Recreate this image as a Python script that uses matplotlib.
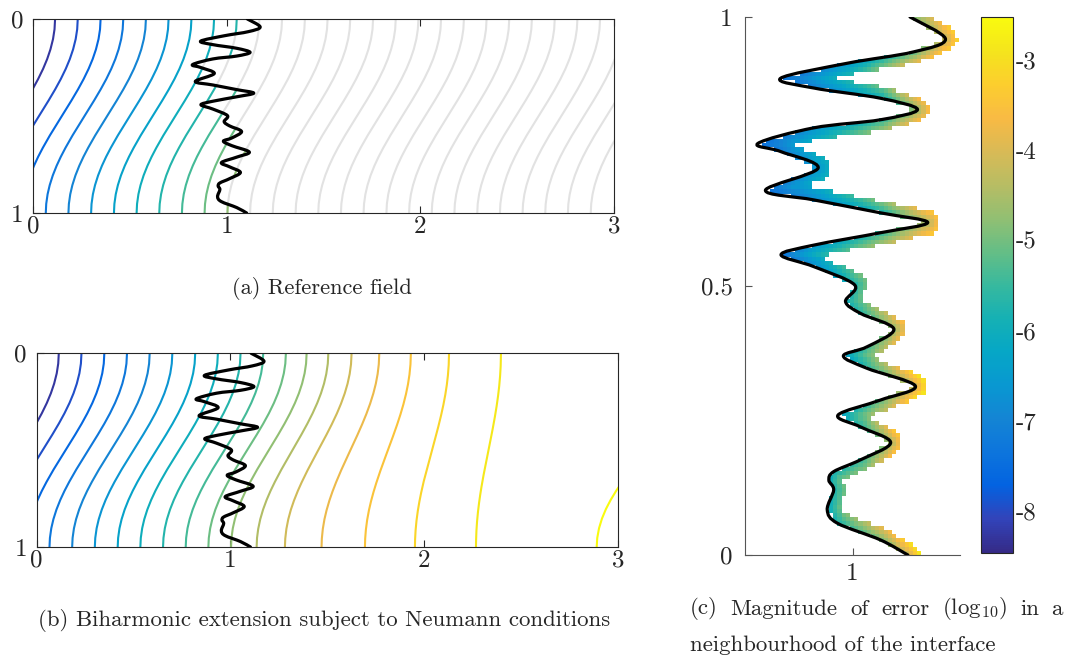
import numpy as np
import matplotlib
matplotlib.use("Agg")
import matplotlib.pyplot as plt
from matplotlib.colors import LinearSegmentedColormap, Normalize
from matplotlib.path import Path

plt.rcParams['font.family'] = 'cmr10'
plt.rcParams['mathtext.fontset'] = 'cm'
plt.rcParams['axes.unicode_minus'] = False
plt.rcParams['axes.formatter.use_mathtext'] = True

# ---------------- data ----------------
# interface curve: depth t (0 = top, 1 = bottom in panels a/b) and x position
iface_t = [0.000, 0.041, 0.065, 0.086, 0.114, 0.132, 0.151, 0.172, 0.191, 0.206,
           0.235, 0.250, 0.281, 0.322, 0.340, 0.364, 0.382, 0.401, 0.424, 0.442,
           0.464, 0.498, 0.529, 0.551, 0.580, 0.613, 0.630, 0.653, 0.686, 0.712,
           0.740, 0.762, 0.791, 0.823, 0.845, 0.861, 0.879, 0.916, 0.941, 0.972, 1.000]
iface_x = [1.107, 1.173, 1.113, 0.990, 0.866, 0.928, 1.052, 1.121, 1.052, 0.928,
           0.824, 0.866, 0.936, 0.838, 0.928, 1.052, 1.140, 1.052, 0.928, 0.867,
           0.928, 1.004, 0.987, 1.015, 1.077, 1.027, 0.983, 1.027, 1.117, 1.052,
           0.973, 1.015, 1.071, 1.015, 0.965, 0.956, 0.965, 0.953, 0.972, 1.052, 1.103]

# log10 error next to the interface and at the outer edge of the band (per interface node)
err_inner = [-5.0, -4.3, -5.2, -6.6, -7.4, -7.1, -6.0, -4.7, -5.6, -6.7,
             -7.5, -7.2, -6.6, -7.4, -6.9, -5.8, -4.5, -5.5, -6.6, -7.4,
             -6.8, -5.8, -6.0, -5.6, -4.8, -5.4, -6.5, -5.6, -4.2, -5.1,
             -6.4, -5.6, -4.6, -5.5, -5.9, -6.1, -5.8, -6.2, -5.7, -5.0, -4.3]
err_outer = [-4.5, -3.2, -3.8, -5.8, -6.8, -6.5, -5.0, -3.5, -4.6, -6.1,
             -6.9, -6.7, -6.0, -6.8, -6.3, -4.8, -3.4, -4.5, -5.9, -6.7,
             -6.2, -5.0, -5.2, -5.0, -3.6, -4.8, -5.6, -5.0, -2.8, -4.3,
             -5.4, -5.0, -3.3, -4.8, -5.0, -5.0, -5.0, -5.1, -5.0, -3.8, -2.8]

# normalised S-shape of every contour line (+1 at top, -1 at bottom) vs depth
prof_t = [0.00, 0.05, 0.10, 0.15, 0.20, 0.25, 0.30, 0.35, 0.40, 0.45, 0.50,
          0.55, 0.60, 0.65, 0.70, 0.75, 0.80, 0.85, 0.90, 0.95, 1.00]
prof_s = [1.000, 0.988, 0.951, 0.891, 0.809, 0.707, 0.588, 0.454, 0.309, 0.156, 0.000,
          -0.156, -0.309, -0.454, -0.588, -0.707, -0.809, -0.891, -0.951, -0.988, -1.000]

# panel (a): x of each contour level at the top edge; every line drops by a_drop to the bottom
a_top = [0.114, 0.231, 0.349, 0.466, 0.583, 0.700, 0.818, 0.935, 1.052, 1.169,
         1.286, 1.404, 1.521, 1.638, 1.756, 1.873, 1.990, 2.107, 2.225, 2.342,
         2.459, 2.576, 2.694, 2.811, 2.928, 3.045, 3.162, 3.280]
a_drop = 0.40

# panel (b): x of each contour level at the top and the bottom edge
b_top = [0.114, 0.231, 0.349, 0.466, 0.583, 0.700, 0.818, 0.935, 1.052, 1.169,
         1.286, 1.393, 1.505, 1.625, 1.768, 1.931, 2.128, 2.396, 3.408]
b_bot = [-0.286, -0.169, -0.051, 0.066, 0.183, 0.300, 0.418, 0.535, 0.652, 0.769,
         0.886, 1.003, 1.135, 1.281, 1.470, 1.694, 1.952, 2.267, 2.890]

err_ticks = [-8, -7, -6, -5, -4, -3]
err_range = (-8.47, -2.52)

# ---------------- colours ----------------
parula_anchor = [
    (0.2081, 0.1663, 0.5292), (0.1959, 0.2645, 0.7279), (0.0117, 0.3875, 0.8820),
    (0.0498, 0.4586, 0.8641), (0.0793, 0.5200, 0.8312), (0.0343, 0.5966, 0.8199),
    (0.0228, 0.6535, 0.7768), (0.0843, 0.6928, 0.7062), (0.2178, 0.7250, 0.6193),
    (0.3953, 0.7459, 0.5244), (0.5709, 0.7485, 0.4494), (0.7184, 0.7411, 0.3905),
    (0.8507, 0.7299, 0.3360), (0.9739, 0.7314, 0.2666), (0.9880, 0.8066, 0.1794),
    (0.9589, 0.8949, 0.1132), (0.9763, 0.9831, 0.0538)]
parula = LinearSegmentedColormap.from_list('parula', parula_anchor, N=256)
level_norm = Normalize(vmin=-0.65, vmax=18.0)
err_norm = Normalize(vmin=err_range[0], vmax=err_range[1])
GRAY = '#e2e2e2'

# ---------------- figure ----------------
W, H = 1069, 663
fig = plt.figure(figsize=(W / 100, H / 100), dpi=100)


def rect(l, t, r, b):
    return [l / W, 1 - b / H, (r - l) / W, (b - t) / H]


axA = fig.add_axes(rect(33, 19, 614, 213))
axB = fig.add_axes(rect(36.7, 353.3, 618, 547))
axC = fig.add_axes(rect(745, 17, 960, 555))
cax = fig.add_axes(rect(981, 17, 1013, 553))


def smooth_path(px, py, close_x=None):
    p = np.column_stack([px, py]).astype(float)
    n = len(p)
    verts = [p[0]]
    codes = [Path.MOVETO]
    for i in range(n - 1):
        p0 = p[i - 1] if i > 0 else p[i]
        p1, p2 = p[i], p[i + 1]
        p3 = p[i + 2] if i + 2 < n else p[i + 1]
        verts += [p1 + (p2 - p0) / 6.0, p2 - (p3 - p1) / 6.0, p2]
        codes += [Path.CURVE4] * 3
    if close_x is not None:
        verts += [(close_x, p[-1, 1]), (close_x, p[0, 1]), p[0]]
        codes += [Path.LINETO, Path.LINETO, Path.CLOSEPOLY]
    return Path(np.array(verts), codes)


tt = np.linspace(0, 1, 301)
ss = np.interp(tt, prof_t, prof_s)


def level_x(top, bot):
    return (top + bot) / 2 + (top - bot) / 2 * ss


IT = np.array(iface_t)
IX = np.array(iface_x)

# ---- panel (a) ----
left_clip = smooth_path(IX, IT, close_x=-1.0)
right_clip = smooth_path(IX, IT, close_x=4.0)
for k, top in enumerate(a_top):
    xk = level_x(top, top - a_drop)
    lg, = axA.plot(xk, tt, color=GRAY, lw=1.5, zorder=1, solid_capstyle='butt')
    lg.set_clip_path(right_clip, axA.transData)
    lc, = axA.plot(xk, tt, color=parula(level_norm(k)), lw=1.5, zorder=2)
    lc.set_clip_path(left_clip, axA.transData)

# ---- panel (b) ----
for k, (top, bot) in enumerate(zip(b_top, b_bot)):
    axB.plot(level_x(top, bot), tt, color=parula(level_norm(k)), lw=1.5, zorder=2)

for ax in (axA, axB):
    ax.add_patch(matplotlib.patches.PathPatch(smooth_path(IX, IT), fill=False,
                                              lw=2.3, ec='black', zorder=5,
                                              capstyle='round', joinstyle='round'))
    ax.set_xlim(0, 3)
    ax.set_ylim(1, 0)
    ax.set_xticks([0, 1, 2, 3])
    ax.set_xticklabels(['0', '1', '2', '3'])
    ax.set_yticks([0, 1])
    ax.set_yticklabels(['0', '1'])
    ax.tick_params(axis='both', direction='in', length=5, width=0.8,
                   labelsize=18, colors='#262626')
    ax.tick_params(axis='x', top=True, pad=2)
    ax.tick_params(axis='y', pad=7)
    for sp in ax.spines.values():
        sp.set_linewidth(0.8)
        sp.set_color('#262626')

# ---- panel (c) ----
h = 1.0 / 128
xe = np.arange(0.8, 1.2 + h / 2, h)
ye = np.arange(0.0, 1.0 + h / 2, h)
XC, YC = np.meshgrid((xe[:-1] + xe[1:]) / 2, (ye[:-1] + ye[1:]) / 2)
x_if = np.interp(1 - YC, IT, IX)
P = np.column_stack([IX, 1 - IT])
A, B = P[:-1], P[1:]
AB = B - A
pts = np.column_stack([XC.ravel(), YC.ravel()])
AP = pts[:, None, :] - A[None, :, :]
u = np.clip((AP * AB[None]).sum(-1) / (AB ** 2).sum(-1)[None], 0, 1)
proj = A[None] + u[..., None] * AB[None]
d = np.linalg.norm(pts[:, None, :] - proj, axis=-1)
j = d.argmin(1)
rows = np.arange(len(pts))
dmin = d[rows, j]
uu = u[rows, j]
ei, eo = np.array(err_inner), np.array(err_outer)
inner = ei[j] * (1 - uu) + ei[j + 1] * uu
outer = eo[j] * (1 - uu) + eo[j + 1] * uu
band = 0.022
val = inner + (outer - inner) * np.clip(dmin / band, 0, 1)
mask = ~((XC.ravel() > x_if.ravel()) & (dmin < band))
vals = np.ma.masked_array(val, mask).reshape(XC.shape)
mesh = axC.pcolormesh(xe, ye, vals, cmap=parula, norm=err_norm, zorder=1)
axC.add_patch(matplotlib.patches.PathPatch(smooth_path(IX, 1 - IT), fill=False,
                                           lw=2.3, ec='black', zorder=5,
                                           capstyle='round', joinstyle='round'))
axC.set_xlim(0.8, 1.2)
axC.set_ylim(0, 1)
axC.set_xticks([1])
axC.set_xticklabels(['1'])
axC.set_yticks([0, 0.5, 1])
axC.set_yticklabels(['0', '0.5', '1'])
axC.spines['top'].set_visible(False)
axC.spines['right'].set_visible(False)
for sp in ('left', 'bottom'):
    axC.spines[sp].set_linewidth(0.8)
    axC.spines[sp].set_color('#555555')
axC.tick_params(direction='in', length=5, width=0.8, labelsize=18,
                colors='#262626')
axC.tick_params(axis='x', pad=6, color='#555555')
axC.tick_params(axis='y', pad=9, color='#555555')

cb = fig.colorbar(mesh, cax=cax, ticks=err_ticks)
cb.ax.set_yticklabels([str(v) for v in err_ticks])
cb.ax.tick_params(direction='in', length=0, labelsize=18, pad=2, colors='#262626')
cb.outline.set_linewidth(0.8)
cb.outline.set_edgecolor('#262626')

# ---- captions ----
fig.canvas.draw()
rend = fig.canvas.get_renderer()


def fit_text(x_px, y_px, s, width_px, ha='left'):
    t = fig.text(x_px / W, 1 - y_px / H, s, fontsize=14, ha=ha, va='center',
                 color='#262626')
    bb = t.get_window_extent(rend)
    t.set_fontsize(14 * width_px / bb.width)
    return t


fit_text(322, 288, '(a) Reference field', 179, ha='center')
tb = fit_text(324, 620, '(b) Biharmonic extension subject to Neumann conditions', 572, ha='center')
fs_c = tb.get_fontsize()
fig.text(690 / W, 1 - 645 / H, 'neighbourhood of the interface', fontsize=fs_c,
         ha='left', va='center', color='#262626')

words = ['(c)', 'Magnitude', 'of', 'error', r'(log$_{10}$)', 'in', 'a']
wtexts = [fig.text(0, 1 - 609 / H, w, fontsize=fs_c, ha='left', va='center',
                   color='#262626') for w in words]
widths = [t.get_window_extent(rend).width for t in wtexts]
x0, x1 = 690, 1063
gap = (x1 - x0 - sum(widths)) / (len(words) - 1)
x = x0
for t, w in zip(wtexts, widths):
    t.set_x(x / W)
    x += w + gap

fig.savefig('out.png', dpi=100)
